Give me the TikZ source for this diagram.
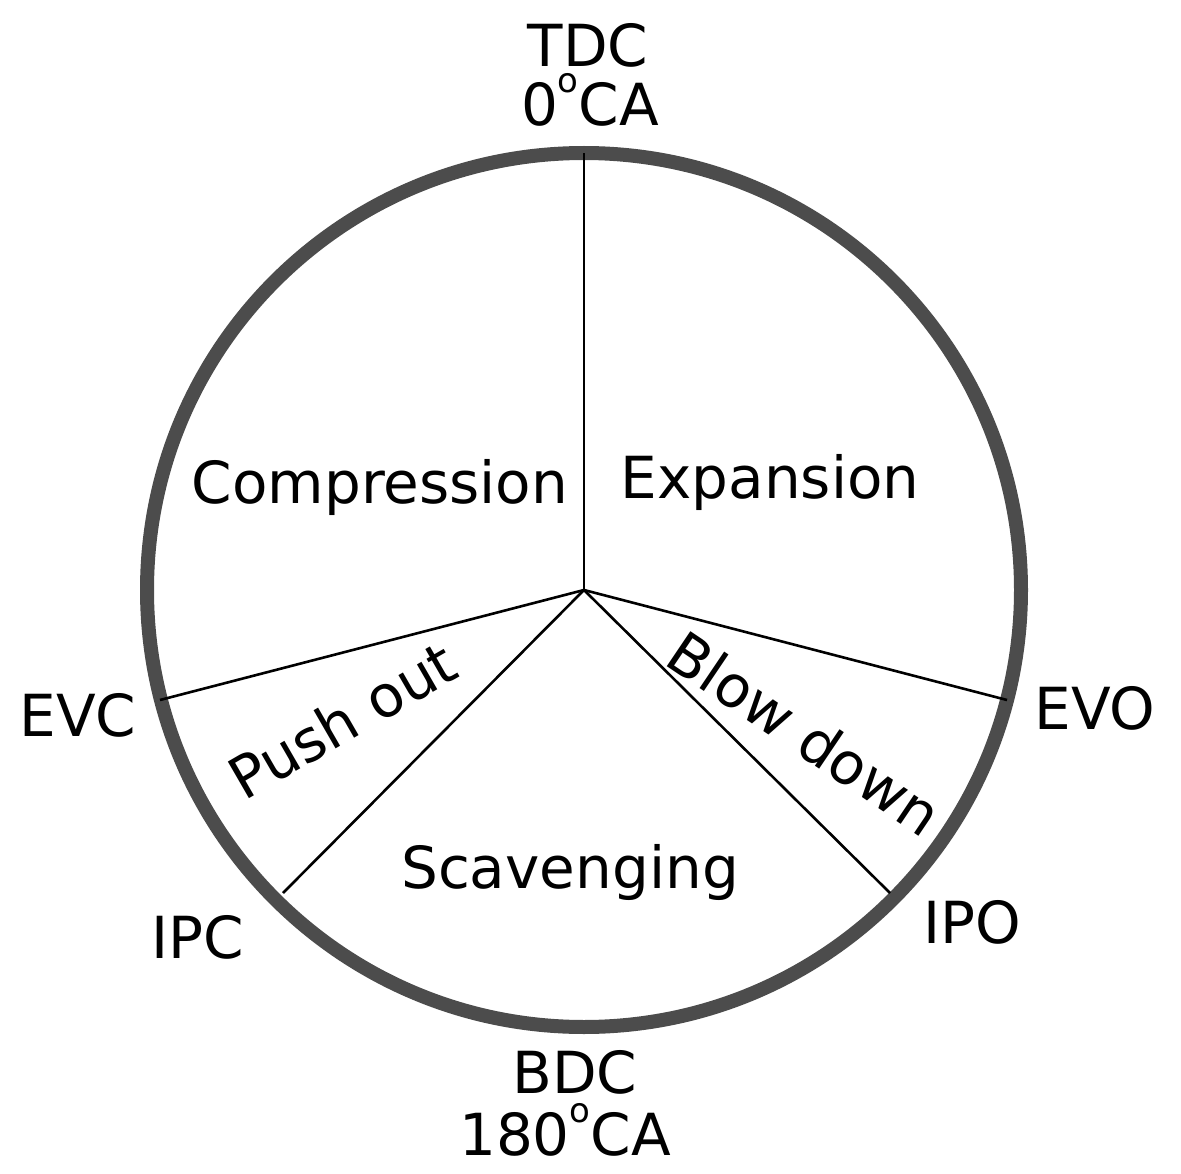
\documentclass[tikz,border=0pt]{standalone}
\usepackage{fontspec}
\setmainfont{DejaVu Sans}
\newcommand{\dego}{\raisebox{1.05ex}{\fontsize{34}{36}\selectfont o}}
\begin{document}
\begin{tikzpicture}[x=1pt,y=-1pt,
  lbl/.style={font=\fontsize{58}{62}\selectfont,inner sep=0pt},
  seg/.style={line width=2.6pt}]
\useasboundingbox (0,0) rectangle (1181,1174);
\coordinate (c) at (584,590);
\draw[line width=14pt,color=black!70] (c) circle[radius=437];
\coordinate (tdc) at (584,153);
\coordinate (evc) at (160,700);
\coordinate (evo) at (1007,700);
\coordinate (ipc) at (283,893);
\coordinate (ipo) at (890,893);
\draw[seg] (c) -- (tdc);
\draw[seg] (c) -- (evc);
\draw[seg] (c) -- (evo);
\draw[seg] (c) -- (ipc);
\draw[seg] (c) -- (ipo);
\node[lbl] (t1) at (588,45) {TDC};
\node[lbl] (t2) at (590,100) {0\dego CA};
\node[lbl] (b1) at (575,1072) {BDC};
\node[lbl] (b2) at (565,1130) {180\dego CA};
\node[lbl] (l1) at (78,715) {EVC};
\node[lbl] (l2) at (1095,708) {EVO};
\node[lbl] (l3) at (198,937) {IPC};
\node[lbl] (l4) at (972,922) {IPO};
\node[lbl] (p1) at (380,487) {Compression};
\node[lbl] (p2) at (770,482) {Expansion};
\node[lbl] (p3) at (570,872) {Scavenging};
\node[lbl,rotate=30] (p4) at (342,720) {Push out};
\node[lbl,rotate=-34] (p5) at (805,733) {Blow down};
\end{tikzpicture}
\end{document}
